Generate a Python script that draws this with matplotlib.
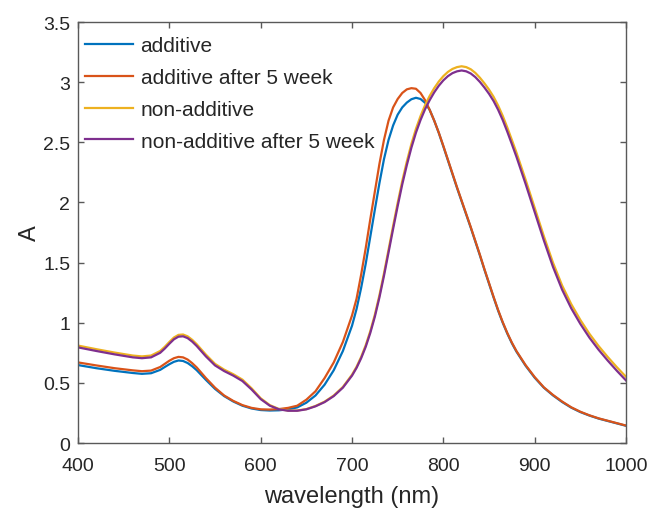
import numpy as np
import matplotlib
matplotlib.use("Agg")
import matplotlib.pyplot as plt

plt.rcParams['font.family'] = ['Liberation Sans', 'DejaVu Sans']

# sampling grid (nm): coarse on the flat parts, 5 nm through the plasmon peaks
wavelength = ([400, 420, 440, 460, 470, 480, 490, 495, 500, 505, 510, 515, 520, 525, 530]
              + list(range(540, 700, 10))
              + list(range(700, 885, 5))
              + list(range(890, 1001, 10)))

additive = [
    0.648, 0.622, 0.600, 0.582, 0.575, 0.580, 0.608, 0.632, 0.655, 0.675, 0.686, 0.682, 0.665, 0.638, 0.605,
    0.525, 0.450, 0.390, 0.345, 0.310, 0.287, 0.274, 0.270, 0.272, 0.280, 0.296, 0.335, 0.395, 0.485, 0.605, 0.765,
    0.975, 1.115, 1.290, 1.490, 1.715, 1.940, 2.160, 2.360, 2.520, 2.640,
    2.730, 2.790, 2.830, 2.858, 2.870, 2.860, 2.828, 2.770, 2.680, 2.578,
    2.465, 2.350, 2.235, 2.120, 2.010, 1.900, 1.790, 1.675, 1.560, 1.440,
    1.325, 1.210, 1.100, 1.000, 0.910, 0.830, 0.760,
    0.643, 0.543, 0.460, 0.396, 0.341, 0.294, 0.257, 0.228, 0.203, 0.183, 0.163, 0.143,
]
additive_5wk = [
    0.670, 0.645, 0.622, 0.604, 0.597, 0.602, 0.632, 0.658, 0.684, 0.705, 0.716, 0.712, 0.694, 0.664, 0.628,
    0.540, 0.460, 0.395, 0.350, 0.315, 0.292, 0.280, 0.278, 0.282, 0.292, 0.310, 0.360, 0.430, 0.540, 0.670, 0.840,
    1.060, 1.200, 1.400, 1.620, 1.860, 2.090, 2.320, 2.520, 2.680, 2.790,
    2.860, 2.910, 2.940, 2.950, 2.945, 2.910, 2.850, 2.770, 2.680, 2.580,
    2.470, 2.355, 2.240, 2.125, 2.015, 1.905, 1.795, 1.680, 1.565, 1.445,
    1.330, 1.215, 1.105, 1.005, 0.915, 0.835, 0.765,
    0.648, 0.548, 0.463, 0.400, 0.345, 0.297, 0.260, 0.230, 0.205, 0.185, 0.165, 0.145,
]
non_additive = [
    0.810, 0.780, 0.752, 0.727, 0.720, 0.727, 0.765, 0.800, 0.840, 0.877, 0.899, 0.902, 0.887, 0.858, 0.821,
    0.735, 0.658, 0.610, 0.572, 0.527, 0.455, 0.372, 0.315, 0.283, 0.270, 0.270, 0.282, 0.308, 0.344, 0.395, 0.466,
    0.568, 0.634, 0.716, 0.813, 0.930, 1.067, 1.229, 1.411, 1.608, 1.805,
    1.997, 2.178, 2.340, 2.486, 2.612, 2.718, 2.809, 2.885, 2.950, 3.005,
    3.050, 3.085, 3.110, 3.125, 3.132, 3.125, 3.107, 3.077, 3.037, 2.990,
    2.938, 2.878, 2.805, 2.720, 2.623, 2.520, 2.415,
    2.190, 1.955, 1.720, 1.500, 1.310, 1.155, 1.023, 0.907, 0.806, 0.715, 0.630, 0.550,
]
non_additive_5wk = [
    0.795, 0.765, 0.737, 0.712, 0.705, 0.712, 0.750, 0.785, 0.825, 0.862, 0.884, 0.887, 0.872, 0.843, 0.806,
    0.720, 0.645, 0.598, 0.560, 0.515, 0.445, 0.365, 0.310, 0.280, 0.268, 0.268, 0.280, 0.305, 0.340, 0.390, 0.460,
    0.560, 0.625, 0.705, 0.800, 0.915, 1.050, 1.210, 1.390, 1.585, 1.780,
    1.970, 2.150, 2.310, 2.455, 2.580, 2.685, 2.775, 2.850, 2.915, 2.970,
    3.015, 3.050, 3.075, 3.090, 3.097, 3.090, 3.072, 3.042, 3.002, 2.955,
    2.903, 2.843, 2.770, 2.685, 2.588, 2.485, 2.380,
    2.155, 1.920, 1.685, 1.465, 1.275, 1.120, 0.990, 0.875, 0.775, 0.685, 0.600, 0.520,
]

labels = ['additive', 'additive after 5 week', 'non-additive', 'non-additive after 5 week']
colors = ['#0072BD', '#D95319', '#EDB120', '#7E2F8E']
series = [additive, additive_5wk, non_additive, non_additive_5wk]

fig = plt.figure(figsize=(6.49, 5.10), dpi=100)
ax = fig.add_axes([0.1202, 0.1294, 0.8444, 0.8255])

for y, c, lab in zip(series, colors, labels):
    ax.plot(wavelength, y, color=c, lw=1.6, label=lab)

ax.set_xlim(400, 1000)
ax.set_ylim(0, 3.5)
ax.set_xticks(np.arange(400, 1001, 100))
ax.set_yticks(np.arange(0, 3.51, 0.5))
ax.set_yticklabels(['0', '0.5', '1', '1.5', '2', '2.5', '3', '3.5'])

axcol = '#595959'
txtcol = '#262626'
for s in ax.spines.values():
    s.set_color(axcol)
    s.set_linewidth(1.0)
ax.tick_params(direction='in', length=4.3, width=1.0, color=axcol,
               top=True, right=True, labelsize=14, labelcolor=txtcol)
ax.tick_params(axis='x', pad=9.8)
ax.tick_params(axis='y', pad=5.5)

ax.set_xlabel('wavelength (nm)', fontsize=17, color=txtcol, labelpad=8.5)
ax.set_ylabel('A', fontsize=17, color=txtcol, labelpad=1.5)

leg = ax.legend(loc='upper left', bbox_to_anchor=(0.0, 0.983), frameon=False, fontsize=15,
                handlelength=2.3, handletextpad=0.35, labelspacing=0.61,
                borderpad=0.25, borderaxespad=0.1)
for t in leg.get_texts():
    t.set_color(txtcol)

fig.savefig('out.png', dpi=100)
